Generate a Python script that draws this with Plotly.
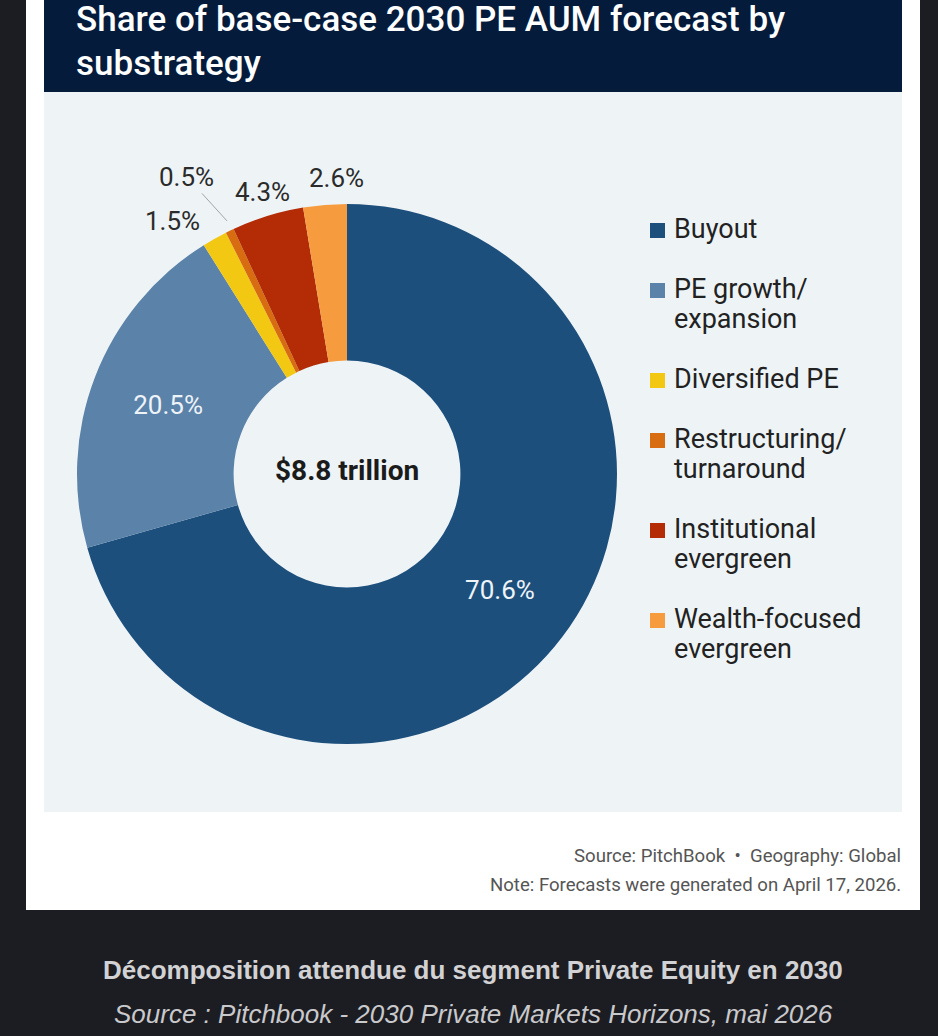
import math
import plotly.graph_objects as go

W, H = 938, 1036

categories = ["Buyout", "PE growth/<br>expansion", "Diversified PE",
              "Restructuring/<br>turnaround", "Institutional<br>evergreen",
              "Wealth-focused<br>evergreen"]
shares = [70.6, 20.5, 1.5, 0.5, 4.3, 2.6]
colors = ["#1d4f7d", "#5b82a8", "#f3c813", "#d86c10", "#b32c06", "#f69b3e"]
total_label = "$8.8 trillion"
title_lines = ["Share of base-case 2030 PE AUM forecast by", "substrategy"]
source_lines = ["Source: PitchBook  \u2022  Geography: Global",
                "Note: Forecasts were generated on April 17, 2026."]
caption = "Décomposition attendue du segment Private Equity en 2030"
caption_src = "Source : Pitchbook - 2030 Private Markets Horizons, mai 2026"


def px(x):
    return x / W


def py(y):
    return 1 - y / H


FONT = "Roboto, Arial, sans-serif"

fig = go.Figure()

# donut geometry (pixels)
cx, cy, r = 347, 474, 270
inside_mask = [s >= 10 for s in shares]
fig.add_trace(go.Pie(
    labels=categories,
    values=shares,
    sort=False,
    direction="clockwise",
    rotation=0,
    hole=0.42,
    marker=dict(colors=colors, line=dict(width=0)),
    texttemplate=["%{value:.1f}%" if m else "" for m in inside_mask],
    textposition=["inside" if m else "none" for m in inside_mask],
    insidetextorientation="horizontal",
    insidetextfont=dict(family=FONT, size=26, color="#eef3f8"),
    domain=dict(x=[px(cx - r), px(cx + r)], y=[py(cy + r), py(cy - r)]),
    showlegend=False,
    hoverinfo="label+percent",
))

# mid angles of slices (clockwise from 12 o'clock), computed from the data
tot = sum(shares)
mids = []
acc = 0
for s in shares:
    mids.append((acc + s / 2) / tot * 360)
    acc += s


def polar(a_deg, rad):
    a = math.radians(a_deg)
    return cx + rad * math.sin(a), cy - rad * math.cos(a)


shapes = [
    dict(type="rect", xref="paper", yref="paper", x0=px(26), x1=px(920), y0=py(910), y1=py(0),
         fillcolor="#ffffff", line=dict(width=0), layer="below"),
    dict(type="rect", xref="paper", yref="paper", x0=px(44), x1=px(902), y0=py(92), y1=py(0),
         fillcolor="#041b3c", line=dict(width=0), layer="below"),
    dict(type="rect", xref="paper", yref="paper", x0=px(44), x1=px(902), y0=py(812), y1=py(92),
         fillcolor="#eef4f6", line=dict(width=0), layer="below"),
]

annotations = []
for i, t in enumerate(title_lines):
    annotations.append(dict(text=t, x=px(74), y=py(19 + 44 * i), xref="paper", yref="paper",
                            xanchor="left", yanchor="middle", showarrow=False,
                            font=dict(family=FONT, size=35, color="#ffffff", weight=500)))

annotations.append(dict(text="<b>" + total_label + "</b>", x=px(347), y=py(470), xref="paper", yref="paper",
                        xanchor="center", yanchor="middle", showarrow=False,
                        font=dict(family=FONT, size=28, color="#1b1b1b")))

# outside labels for small slices
LBL_FONT = dict(family=FONT, size=26, color="#2b2b2b")
label_place = {
    2: dict(rad=296, dx=0, dy=5, xanchor="right"),
    4: dict(rad=296, dx=3, dy=1, xanchor="center"),
    5: dict(rad=296, dx=14, dy=-1, xanchor="center"),
}
for i, s in enumerate(shares):
    if inside_mask[i]:
        continue
    txt = f"{s:.1f}%"
    if i in label_place:
        p = label_place[i]
        x, y = polar(mids[i], p["rad"])
        annotations.append(dict(text=txt, x=px(x + p["dx"]), y=py(y + p["dy"]), xref="paper", yref="paper",
                                xanchor=p["xanchor"], yanchor="middle", showarrow=False, font=LBL_FONT))
    else:
        hx, hy = polar(mids[i], 281)
        annotations.append(dict(text=txt, x=px(hx + 2), y=py(hy), xref="paper", yref="paper",
                                showarrow=True, arrowhead=0, arrowwidth=1, arrowcolor="#a0a4a8",
                                ax=-40, ay=-44, standoff=0, font=LBL_FONT))

# custom legend
ly = 229
for cat, col in zip(categories, colors):
    lines = cat.split("<br>")
    shapes.append(dict(type="rect", xref="paper", yref="paper",
                       x0=px(650), x1=px(665), y0=py(ly + 9), y1=py(ly - 6),
                       fillcolor=col, line=dict(width=0)))
    for j, ln in enumerate(lines):
        annotations.append(dict(text=ln, x=px(672), y=py(ly + 30 * j), xref="paper", yref="paper",
                                xanchor="left", yanchor="middle", showarrow=False,
                                font=dict(family=FONT, size=27, color="#222222")))
    ly += 30 * len(lines) + 30

for i, t in enumerate(source_lines):
    annotations.append(dict(text=t, x=px(903), y=py(856 + 29 * i), xref="paper", yref="paper",
                            xanchor="right", yanchor="middle", showarrow=False,
                            font=dict(family=FONT, size=18.6, color="#555555")))

CAP_FONT = "Liberation Sans, Arial, sans-serif"
annotations.append(dict(text="<b>" + caption + "</b>", x=px(473), y=py(970), xref="paper", yref="paper",
                        xanchor="center", yanchor="middle", showarrow=False,
                        font=dict(family=CAP_FONT, size=26, color="#d2d2d4")))
annotations.append(dict(text="<i>" + caption_src + "</i>", x=px(473), y=py(1014), xref="paper", yref="paper",
                        xanchor="center", yanchor="middle", showarrow=False,
                        font=dict(family=CAP_FONT, size=26, color="#c9c9cc")))

fig.update_layout(
    width=W, height=H,
    margin=dict(l=0, r=0, t=0, b=0),
    paper_bgcolor="#1c1d22",
    plot_bgcolor="rgba(0,0,0,0)",
    shapes=shapes,
    annotations=annotations,
    showlegend=False,
)

fig.write_html("out.html")
